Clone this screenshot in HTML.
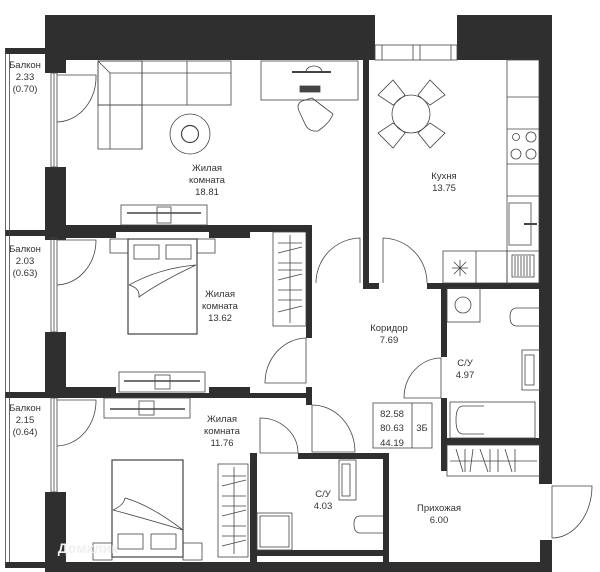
<!DOCTYPE html>
<html><head><meta charset="utf-8"><style>
html,body{margin:0;padding:0;background:#fff;}
svg{display:block;}
text{font-family:"Liberation Sans",sans-serif;font-size:9.5px;fill:#333;text-anchor:middle;}
</style></head><body>
<svg width="600" height="572" viewBox="0 0 600 572" xmlns="http://www.w3.org/2000/svg">
<g fill="#2f2f2f">
<rect x="45" y="15" width="330" height="45"/>
<rect x="457" y="15" width="95" height="45"/>
<rect x="539" y="15" width="13" height="469"/>
<rect x="540" y="540" width="12" height="32"/>
<rect x="45" y="562" width="507" height="10"/>
<rect x="45" y="48" width="21" height="25"/>
<rect x="45" y="167" width="21" height="73"/>
<rect x="45" y="332" width="21" height="66"/>
<rect x="45" y="492" width="21" height="80"/>
<rect x="5" y="48" width="40" height="6"/>
<rect x="5" y="230" width="40" height="6"/>
<rect x="5" y="392" width="40" height="6"/>
<rect x="5" y="562" width="40" height="6"/>
<rect x="45" y="225" width="267" height="7"/>
<rect x="45" y="232" width="71" height="6"/>
<rect x="209" y="232" width="41" height="6"/>
<rect x="306" y="225" width="6" height="113"/>
<rect x="306" y="387" width="6" height="18"/>
<rect x="45" y="387" width="71" height="11"/>
<rect x="116" y="393" width="93" height="5"/>
<rect x="209" y="387" width="41" height="11"/>
<rect x="250" y="393" width="62" height="5"/>
<rect x="306" y="283" width="6" height="7"/>
<rect x="363" y="60" width="6" height="228"/>
<rect x="363" y="283" width="16" height="6"/>
<rect x="427" y="283" width="125" height="6"/>
<rect x="441" y="283" width="6" height="74"/>
<rect x="441" y="398" width="6" height="73"/>
<rect x="441" y="438" width="99" height="7"/>
<rect x="250" y="453" width="7" height="109"/>
<rect x="298" y="453" width="91" height="6"/>
<rect x="383" y="453" width="6" height="109"/>
<rect x="250" y="550" width="139" height="6"/>
</g>
<g fill="none" stroke="#444" stroke-width="0.8">
<line x1="5.5" y1="48" x2="5.5" y2="568"/><line x1="9.5" y1="54" x2="9.5" y2="562"/>
<rect x="51" y="73" width="6" height="94"/><line x1="54" y1="73" x2="54" y2="167"/>
<rect x="51" y="238" width="6" height="94"/><line x1="54" y1="238" x2="54" y2="332"/>
<rect x="51" y="398" width="6" height="94"/><line x1="54" y1="398" x2="54" y2="492"/>
<rect x="375" y="45" width="82" height="15"/><line x1="382" y1="45" x2="382" y2="60"/><line x1="413" y1="45" x2="413" y2="60"/><line x1="420" y1="45" x2="420" y2="60"/><line x1="451" y1="45" x2="451" y2="60"/>
<path d="M57 75 H96 A40 45 0 0 1 57 122"/>
<path d="M57 240 H96 A40 45 0 0 1 57 285"/>
<path d="M57 400 H96 A40 45 0 0 1 57 446"/>
<rect x="98" y="61" width="133" height="44"/><rect x="98" y="61" width="44" height="88"/>
<line x1="110" y1="73" x2="231" y2="73"/><line x1="110" y1="73" x2="110" y2="149"/><line x1="98" y1="61" x2="110" y2="73"/>
<line x1="142" y1="61" x2="142" y2="105"/><line x1="187" y1="61" x2="187" y2="105"/><line x1="98" y1="105" x2="142" y2="105"/><line x1="142" y1="105" x2="142" y2="149"/>
<circle cx="190" cy="134" r="20"/><circle cx="190" cy="134" r="8.5" stroke-width="1.2"/>
<rect x="261" y="61" width="97" height="39"/>
<line x1="292" y1="72" x2="331" y2="72" stroke-width="2"/><path d="M306 72 A8 6 0 0 1 322 72"/>
<rect x="300" y="86" width="20" height="6" fill="#444"/>
<path d="M299 111 Q296 104 302 101 L312 98 L333 114 Q330 122 322 128 L318 131 Q310 132 306 126 Z"/>
<rect x="121" y="205" width="86" height="20"/><line x1="127" y1="213" x2="201" y2="213" stroke-width="1.5"/><rect x="157" y="207" width="14" height="16"/>
<circle cx="411" cy="114" r="19"/>
<path d="M378 95 L393 80 L405 95 L393 105 Z"/><path d="M418 95 L430 80 L445 95 L430 105 Z"/>
<path d="M378 133 L393 123 L405 133 L393 148 Z"/><path d="M418 133 L430 123 L445 133 L430 148 Z"/>
<rect x="507" y="60" width="32" height="223"/>
<line x1="507" y1="97" x2="539" y2="97"/><line x1="507" y1="129" x2="539" y2="129"/><line x1="507" y1="164" x2="539" y2="164"/><line x1="507" y1="196" x2="539" y2="196"/><line x1="507" y1="251" x2="539" y2="251"/>
<circle cx="516" cy="137" r="3.5"/><circle cx="531" cy="137" r="5"/><circle cx="516" cy="154" r="5"/><circle cx="531" cy="154" r="5"/>
<rect x="509" y="203" width="22" height="42"/><line x1="524" y1="224" x2="537" y2="224" stroke-width="2"/>
<rect x="443" y="251" width="64" height="32"/><line x1="476" y1="251" x2="476" y2="283"/>
<path d="M454 262 L466 274 M466 262 L454 274 M460 260 V276 M452 268 H468"/>
<rect x="512" y="255" width="22" height="22"/>
<path d="M515 256V276M518 256V276M521 256V276M524 256V276M527 256V276M530 256V276"/>
<path d="M316 283 A45 45 0 0 1 360 238 V283"/>
<path d="M383 283 V238 A45 45 0 0 1 427 283"/>
<path d="M265 383 A42 45 0 0 1 306 338 V383 Z"/>
<path d="M404 398 A37 40 0 0 1 441 358 V398 Z"/>
<path d="M312 452 V405 A43 47 0 0 1 355 452 Z"/>
<path d="M260 453 V418 A38 35 0 0 1 298 453 Z"/>
<path d="M552 486 H592 A40 52 0 0 1 552 538 Z"/>
<rect x="110" y="239" width="18" height="14"/><rect x="197" y="239" width="18" height="14"/>
<rect x="128" y="239" width="69" height="95" stroke-width="1.2"/>
<rect x="134" y="245" width="25" height="14"/><rect x="166" y="245" width="25" height="14"/>
<path d="M129 285 Q160 268 196 265 Q160 282 139 297 Q140 288 129 285"/>
<rect x="273" y="232" width="33" height="94"/><line x1="290" y1="235" x2="290" y2="323"/>
<path d="M278 243H302M278 253L302 247M278 263H302M278 270H302M278 280L302 274M278 290H302M278 300H302M278 312L302 306"/>
<rect x="119" y="372" width="86" height="20"/><line x1="124" y1="381" x2="200" y2="381" stroke-width="1.5"/><rect x="155" y="375" width="15" height="14"/>
<rect x="104" y="398" width="86" height="20"/><line x1="110" y1="409" x2="185" y2="409" stroke-width="1.5"/><rect x="139" y="401" width="15" height="14"/>
<rect x="112" y="460" width="71" height="97" stroke-width="1.2"/>
<path d="M113 510 Q150 520 183 530 Q150 505 125 498 Q124 505 113 510"/>
<rect x="118" y="534" width="25" height="15"/><rect x="151" y="534" width="25" height="15"/>
<rect x="93" y="543" width="19" height="17"/><rect x="183" y="543" width="19" height="17"/>
<rect x="218" y="464" width="30" height="93"/><line x1="234" y1="467" x2="234" y2="554"/>
<path d="M222 476H246M222 486L246 480M222 496H246M222 506H246M222 516L246 510M222 526H246M222 536H246M222 546L246 540"/>
<rect x="447" y="288" width="33" height="34"/><circle cx="463" cy="305" r="8"/>
<path d="M540 308 H517 Q510 308 510 317 Q510 326 517 326 H540"/>
<rect x="522" y="350" width="18" height="40"/><rect x="525" y="355" width="9" height="30"/>
<rect x="450" y="402" width="85" height="36"/><path d="M484 406 H463 Q456 406 456 420 Q456 434 463 434 H484"/>
<rect x="447" y="445" width="93" height="31"/><line x1="450" y1="461" x2="537" y2="461"/>
<path d="M456 449L463 472M465 449V472M473 449L470 472M480 449L488 472M490 449V472M498 449V472M505 449L512 472M515 449V472"/>
<rect x="257" y="513" width="35" height="37"/><rect x="260" y="516" width="29" height="31"/>
<rect x="339" y="460" width="17" height="40"/><rect x="342" y="464" width="8" height="32"/>
<path d="M383 516 H360 Q354 516 354 524 Q354 533 360 533 H383"/>
<rect x="373" y="403" width="59" height="45"/><line x1="412" y1="403" x2="412" y2="448"/>
</g>
<text x="25" y="68">Балкон</text><text x="25" y="80">2.33</text><text x="25" y="92">(0.70)</text>
<text x="25" y="252">Балкон</text><text x="25" y="264">2.03</text><text x="25" y="276">(0.63)</text>
<text x="25" y="411">Балкон</text><text x="25" y="423">2.15</text><text x="25" y="435">(0.64)</text>
<text x="207" y="171">Жилая</text><text x="207" y="183">комната</text><text x="207" y="195">18.81</text>
<text x="444" y="179">Кухня</text><text x="444" y="191">13.75</text>
<text x="220" y="297">Жилая</text><text x="220" y="309">комната</text><text x="220" y="321">13.62</text>
<text x="222" y="422">Жилая</text><text x="222" y="434">комната</text><text x="222" y="446">11.76</text>
<text x="389" y="331">Коридор</text><text x="389" y="343">7.69</text>
<text x="465" y="366">С/У</text><text x="465" y="378">4.97</text>
<text x="323" y="497">С/У</text><text x="323" y="509">4.03</text>
<text x="439" y="511">Прихожая</text><text x="439" y="523">6.00</text>
<g style="font-size:13px">
<text x="392" y="417">82.58</text><text x="392" y="431">80.63</text><text x="392" y="446">44.19</text><text x="422" y="431">3Б</text>
</g>
<text x="88" y="553" style="font-size:14px;fill:#f0f0f0;font-weight:bold">Домклик</text>
</svg>
</body></html>
